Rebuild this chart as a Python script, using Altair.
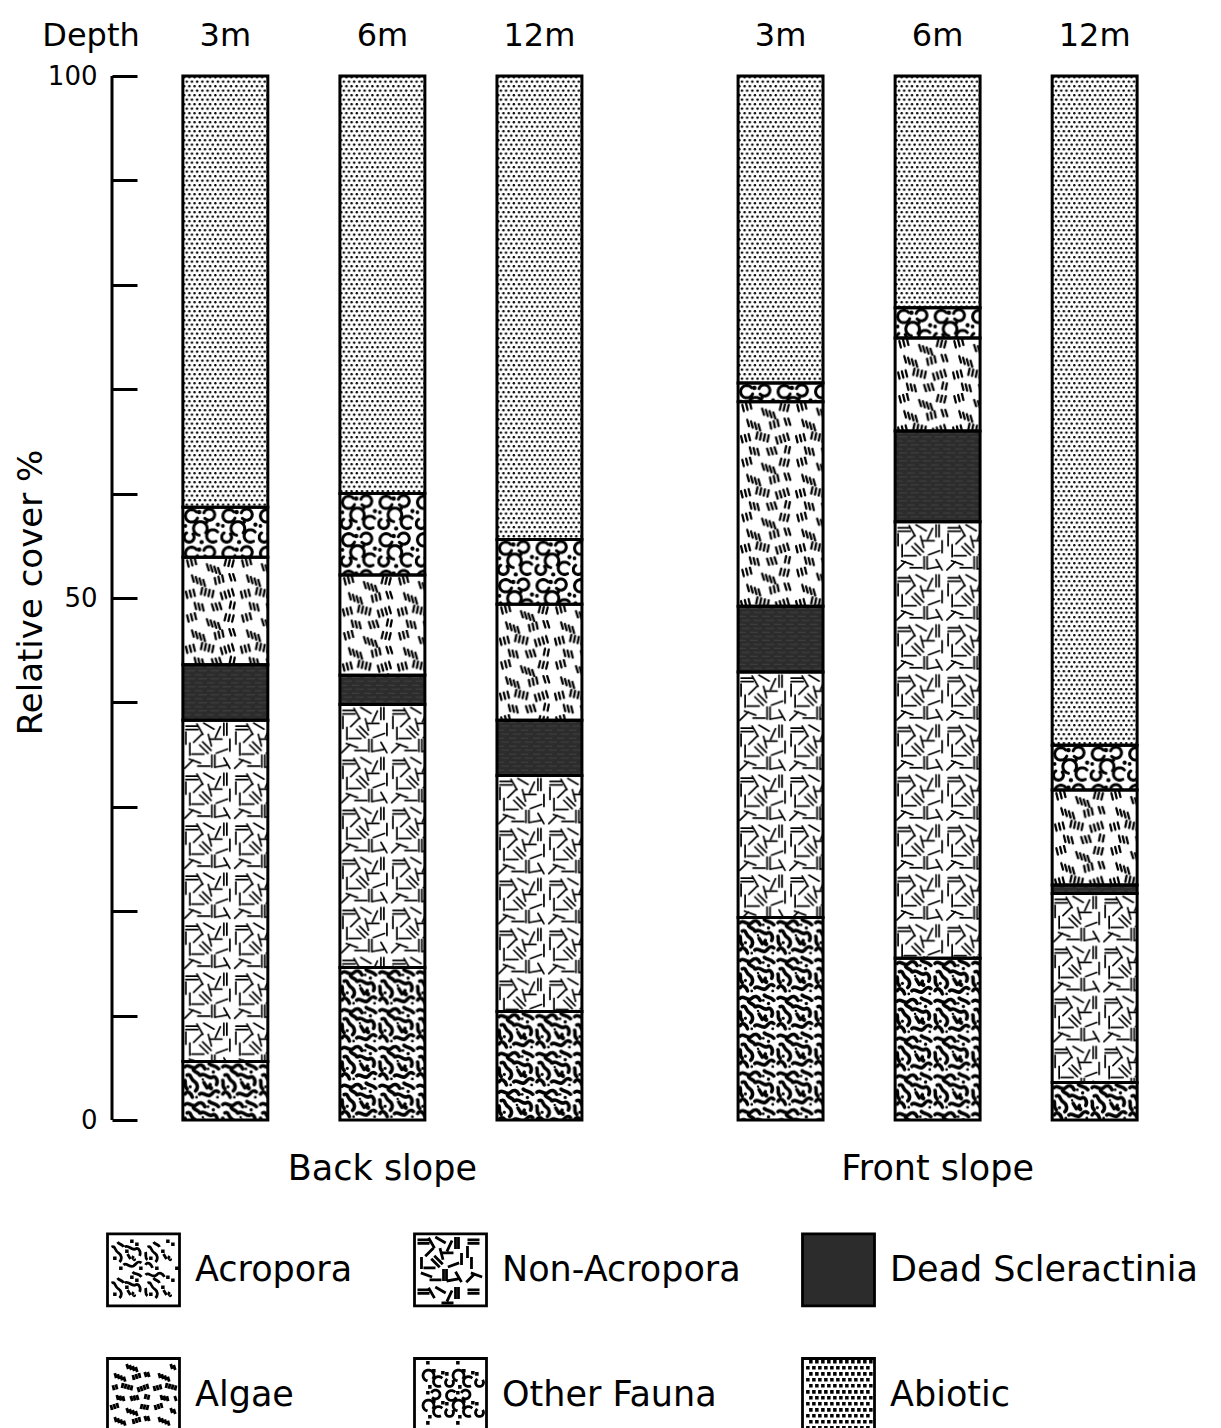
import base64
import math

import altair as alt
import pandas as pd

# ---------------- data ----------------
categories = ["Acropora", "Non-Acropora", "Dead Scleractinia", "Algae", "Other Fauna", "Abiotic"]
slopes = ["Back slope", "Front slope"]
depths = ["3m", "6m", "12m"]
bar_slope = ["Back slope", "Back slope", "Back slope", "Front slope", "Front slope", "Front slope"]
bar_depth = ["3m", "6m", "12m", "3m", "6m", "12m"]

acropora = [5.6, 14.6, 10.4, 19.4, 15.5, 3.6]
non_acropora = [32.7, 25.2, 22.6, 23.5, 41.8, 18.1]
dead_scleractinia = [5.3, 2.8, 5.3, 6.3, 8.7, 0.8]
algae = [10.3, 9.6, 11.1, 19.6, 8.9, 9.1]
other_fauna = [4.8, 7.8, 6.2, 1.8, 2.9, 4.3]
abiotic = [41.3, 40.0, 44.4, 29.4, 22.2, 64.1]

y_ticks = [0, 10, 20, 30, 40, 50, 60, 70, 80, 90, 100]

# ---------------- hatch-pattern styles (drawing style only) ----------------
def seg(cx, cy, ang, length):
    a = math.radians(ang)
    dx, dy = math.cos(a) * length / 2, math.sin(a) * length / 2
    return ("line", cx - dx, cy - dy, cx + dx, cy + dy)


def arc(cx, cy, r, a0, a1, step=20):
    pts = []
    a = a0
    while a <= a1:
        t = math.radians(a)
        pts.append((cx + r * math.cos(t), cy + r * math.sin(t)))
        a += step
    return ("poly", pts)


def ticks(gx, gy, n, dy, tilt, length=5.0):
    out = []
    for k in range(n):
        x, y = gx + 3 * k, gy + dy * k
        out.append(("line", x - tilt, y - length / 2, x + tilt, y + length / 2))
    return out


acro_prims = [
    ("curve", 2, 5, [(5, 1, 9, 9, 13, 5), (16, 2, 19, 3, 21, 7)]),
    ("curve", 25, 2, [(28, 5, 31, 3, 34, 7)]),
    ("curve", 4, 13, [(8, 11, 7, 17, 11, 19), (14, 21, 15, 25, 12, 28)]),
    ("curve", 17, 13, [(21, 10, 24, 17, 28, 15), (31, 13, 34, 18, 32, 22)]),
    ("curve", 2, 31, [(4, 27, 8, 30, 9, 34)]),
    ("curve", 16, 31, [(19, 28, 22, 34, 26, 32), (29, 30, 30, 26, 34, 29)]),
    ("curve", 2, 18, [(3, 21, 1, 24, 4, 26)]),
    ("curve", 26, 22, [(24, 25, 28, 27, 27, 25)]),
    ("curve", 10, 8, [(12, 11, 15, 10, 16, 13)]),
    ("line", 20, 20, 23, 25),
    ("dot", 29, 10, 1.6), ("dot", 7, 24, 1.5), ("dot", 24, 7, 1.3),
    ("dot", 33, 34, 1.4), ("dot", 13, 34, 1.3), ("dot", 19, 17, 1.2),
]

nonacro_prims = [seg(cx, cy, a, 12) for cx, cy, a in [
    (9, 6, 0), (9, 9.5, 0), (26, 6, 30), (41, 9, 90), (44, 9, 90), (15, 18, 135),
    (33, 19, 0), (7, 29, 90), (21, 29, 45), (24, 26, 45), (39, 31, 160), (12, 41, 20),
    (29, 41, 90), (32, 41, 90), (44, 43, 60), (21, 46, 0), (35, 12, 115), (6, 44, 135),
    (27, 20, 75), (17, 9, 60), (47, 25, 90), (15, 34, 0), (3, 18, 90), (38, 46, 170),
]]

algae_prims = []
for g in [(4, 5, 3, -1, 0.6), (20, 8, 4, 1, 0.8), (34, 4, 3, 0.5, -0.6), (8, 17, 4, 1.2, 0.7),
          (26, 19, 3, -1, 0.5), (38, 16, 2, 0, 0.8), (3, 30, 3, -0.8, 0.6), (15, 27, 4, 0.8, -0.5),
          (31, 31, 4, -1, 0.7), (10, 39, 3, 0.6, 0.6), (24, 40, 3, -0.5, 0.8), (38, 38, 2, 0.7, -0.5)]:
    algae_prims += ticks(*g)

fauna_prims = [
    arc(7, 7, 5, 20, 320), arc(21, 6, 4.5, 200, 500), arc(14, 17, 5.5, 100, 400),
    arc(5, 24, 4, -40, 250), arc(24, 23, 5, 60, 330),
    ("dot", 13, 4, 1.8), ("dot", 28, 14, 1.7), ("dot", 2, 15, 1.5),
    ("dot", 15, 28, 1.7), ("dot", 19, 12, 1.4),
]

abiotic_prims = [("dot", x, y, 1.25) for x, y in [(1.3, 1.2), (6.5, 1.2), (3.9, 5.7), (9.1, 5.7)]]
abiotic_legend = [("dot", x, y, 1.0) for x, y in [(2, 3), (8, 3), (5, 9), (11, 9)]]

dead_prims = [("line", 0, 2, 7, 2), ("line", 4, 6, 12, 6)]

patterns = {
    "Acropora": dict(tile=(36, 36), scale=1.05, bg="white", color="black", sw=3.4, prims=acro_prims),
    "Non-Acropora": dict(tile=(50, 50), scale=1.0, bg="white", color="black", sw=1.7, prims=nonacro_prims),
    "Dead Scleractinia": dict(tile=(12, 8), scale=1.0, bg="#2c2c2c", color="#444444", sw=1.0, prims=dead_prims),
    "Algae": dict(tile=(44, 44), scale=1.25, bg="white", color="black", sw=1.8, prims=algae_prims),
    "Other Fauna": dict(tile=(30, 30), scale=1.25, bg="white", color="black", sw=2.4, prims=fauna_prims),
    "Abiotic": dict(tile=(10.4, 9), scale=1.0, bg="white", color="black", sw=1.0, prims=abiotic_prims),
}
legend_fill = {"Dead Scleractinia": "#2c2c2c"}
legend_prims = {
    "Acropora": (acro_prims, (36, 36)),
    "Non-Acropora": (nonacro_prims, (50, 50)),
    "Dead Scleractinia": ([], (12, 8)),
    "Algae": (algae_prims, (44, 44)),
    "Other Fauna": (fauna_prims, (30, 30)),
    "Abiotic": (abiotic_legend, (12, 12)),
}


def prim_svg(p, color):
    kind = p[0]
    if kind == "line":
        return f'<line x1="{p[1]:.2f}" y1="{p[2]:.2f}" x2="{p[3]:.2f}" y2="{p[4]:.2f}"/>'
    if kind == "curve":
        d = f"M{p[1]},{p[2]}" + "".join(f" C{a},{b} {c},{e} {f},{g}" for a, b, c, e, f, g in p[3])
        return f'<path d="{d}"/>'
    if kind == "poly":
        pts = " ".join(f"{x:.2f},{y:.2f}" for x, y in p[1])
        return f'<polyline points="{pts}"/>'
    if kind == "dot":
        return f'<circle cx="{p[1]}" cy="{p[2]}" r="{p[3]}" fill="{color}" stroke="none"/>'
    return ""


def pattern_uri(spec):
    tw, th = spec["tile"]
    body = "".join(prim_svg(p, spec["color"]) for p in spec["prims"])
    svg = (
        '<svg xmlns="http://www.w3.org/2000/svg" width="100%" height="100%">'
        f'<defs><pattern id="p" patternUnits="userSpaceOnUse" width="{tw}" height="{th}" '
        f'patternTransform="scale({spec["scale"]})">'
        f'<g fill="none" stroke="{spec["color"]}" stroke-width="{spec["sw"]}" '
        f'stroke-linecap="round" stroke-linejoin="round">{body}</g></pattern></defs>'
        f'<rect width="100%" height="100%" fill="{spec["bg"]}"/>'
        '<rect width="100%" height="100%" fill="url(#p)"/></svg>'
    )
    return "data:image/svg+xml;base64," + base64.b64encode(svg.encode()).decode()


SYM = 72.0  # legend swatch side, px


def legend_path(prims, tile):
    tw, th = tile
    u = lambda v: f"{(v - SYM / 2) / (SYM / 2):.3f}"
    parts = ["M-1,-1H1V1H-1Z"]
    lo, hi = 3.0, SYM - 3.0
    nx, ny = int(SYM // tw) + 1, int(SYM // th) + 1
    for i in range(nx):
        for j in range(ny):
            ox, oy = i * tw, j * th
            for p in prims:
                kind = p[0]
                if kind == "line":
                    pts = [(p[1] + ox, p[2] + oy), (p[3] + ox, p[4] + oy)]
                elif kind == "curve":
                    pts = [(p[1] + ox, p[2] + oy)]
                    for c in p[3]:
                        pts += [(c[0] + ox, c[1] + oy), (c[2] + ox, c[3] + oy), (c[4] + ox, c[5] + oy)]
                elif kind == "poly":
                    pts = [(x + ox, y + oy) for x, y in p[1]]
                else:
                    pts = [(p[1] + ox, p[2] + oy)]
                if not all(lo <= x <= hi and lo <= y <= hi for x, y in pts):
                    continue
                if kind == "line" or kind == "poly":
                    parts.append("M" + "L".join(f"{u(x)},{u(y)}" for x, y in pts))
                elif kind == "curve":
                    s = f"M{u(pts[0][0])},{u(pts[0][1])}"
                    for k in range(1, len(pts), 3):
                        s += "C" + " ".join(f"{u(x)},{u(y)}" for x, y in pts[k:k + 3])
                    parts.append(s)
                else:
                    x, y = pts[0]
                    parts.append(f"M{u(x)},{u(y)}h0.02v0.02h-0.02Z")
    return "".join(parts)


uris = {c: pattern_uri(patterns[c]) for c in categories}
shape_range = [legend_path(*legend_prims[c]) for c in categories]
fill_range = [legend_fill.get(c, "white") for c in categories]
stroke_range = ["black"] * len(categories)

# ---------------- tidy table built from the arrays ----------------
series = [acropora, non_acropora, dead_scleractinia, algae, other_fauna, abiotic]
rows = []
for ci, (cat, vals) in enumerate(zip(categories, series)):
    for s, d, v in zip(bar_slope, bar_depth, vals):
        rows.append({"slope": s, "depth": d, "category": cat, "order": ci, "value": v, "url": uris[cat]})
df = pd.DataFrame(rows)

FONT = "DejaVu Sans"
W, H = 1046, 1044

x_enc = alt.X(
    "slope:N", sort=slopes,
    scale=alt.Scale(paddingInner=0.1514, paddingOuter=0.0177),
    axis=alt.Axis(title=None, orient="bottom", domain=False, ticks=False, labelAngle=0,
                  labelFontSize=35, labelFont=FONT, labelColor="black", labelLimit=500,
                  labelPadding=31, labelBaseline="top"),
)
xo_enc = alt.XOffset("depth:N", sort=depths,
                     scale=alt.Scale(paddingInner=0.459, paddingOuter=0.2295))

y_axis = alt.Axis(values=y_ticks, tickSize=25, tickWidth=3, tickColor="black",
                  domain=False, grid=False,
                  labelExpr="datum.value % 50 === 0 ? datum.label : ''",
                  labelFontSize=26, labelFont=FONT, labelColor="black", labelPadding=15,
                  title="Relative cover %", titleFontSize=34, titleFont=FONT,
                  titleFontWeight="normal", titleColor="black",
                  titleX=-106, titleY=516, titleAngle=-90,
                  titleAlign="center", titleBaseline="middle")
y_scale = alt.Scale(domain=[0, 100], nice=False, zero=True)

stacked = alt.Chart(df).transform_stack(
    stack="value", groupby=["slope", "depth"], as_=["y0", "y1"],
    sort=[alt.SortField("order", "ascending")], offset="zero",
)

textures = stacked.mark_image(aspect=False).encode(
    x=x_enc, xOffset=xo_enc,
    y=alt.Y("y1:Q", scale=y_scale, axis=y_axis),
    y2="y0:Q",
    url="url:N",
)

outlines = stacked.mark_bar(fill="transparent", stroke="black", strokeWidth=3,
                            strokeJoin="miter").encode(
    x=x_enc, xOffset=xo_enc,
    y=alt.Y("y1:Q", scale=y_scale, axis=y_axis),
    y2="y0:Q",
)

legend = alt.Legend(title=None, orient="none", legendX=-31, legendY=1156,
                    direction="horizontal", columns=3, gridAlign="each",
                    symbolSize=SYM * SYM, symbolStrokeColor="black", symbolStrokeWidth=2.8,
                    symbolOpacity=1,
                    labelFontSize=35, labelFont=FONT, labelColor="black",
                    labelOffset=14, labelLimit=600, columnPadding=55, rowPadding=40,
                    padding=0)

legend_layer = alt.Chart(df).transform_filter("false").mark_point(
    filled=True, strokeWidth=2.8, size=SYM * SYM, opacity=1
).encode(
    fill=alt.Fill("category:N", sort=categories,
                  scale=alt.Scale(domain=categories, range=fill_range), legend=legend),
    stroke=alt.Stroke("category:N", sort=categories,
                      scale=alt.Scale(domain=categories, range=stroke_range), legend=legend),
    shape=alt.Shape("category:N", sort=categories,
                    scale=alt.Scale(domain=categories, range=shape_range), legend=legend),
)

axis_line = alt.Chart(pd.DataFrame({"k": [0]})).mark_rule(
    color="black", strokeWidth=3
).encode(
    x=alt.value(-25),
    y=alt.value(0),
    y2=alt.value(H),
)

depth_df = pd.DataFrame({"slope": bar_slope, "depth": bar_depth})
depth_labels = alt.Chart(depth_df).mark_text(
    font=FONT, fontSize=32, color="black", align="center", baseline="middle"
).encode(
    x=alt.X("slope:N", sort=slopes),
    xOffset=alt.XOffset("depth:N", sort=depths),
    y=alt.value(-40),
    text="depth:N",
)

depth_word = alt.Chart(pd.DataFrame({"t": ["Depth"]})).mark_text(
    font=FONT, fontSize=32, color="black", align="center", baseline="middle"
).encode(
    text="t:N",
    x=alt.value(-46),
    y=alt.value(-40),
)

chart = alt.layer(textures, outlines, axis_line, depth_labels, depth_word, legend_layer).properties(
    width=W, height=H,
    padding={"left": 6, "top": 12, "right": 5, "bottom": 0},
    background="white",
).configure_view(stroke=None)

chart.save("out.html", embed_options={"renderer": "svg", "actions": False})
